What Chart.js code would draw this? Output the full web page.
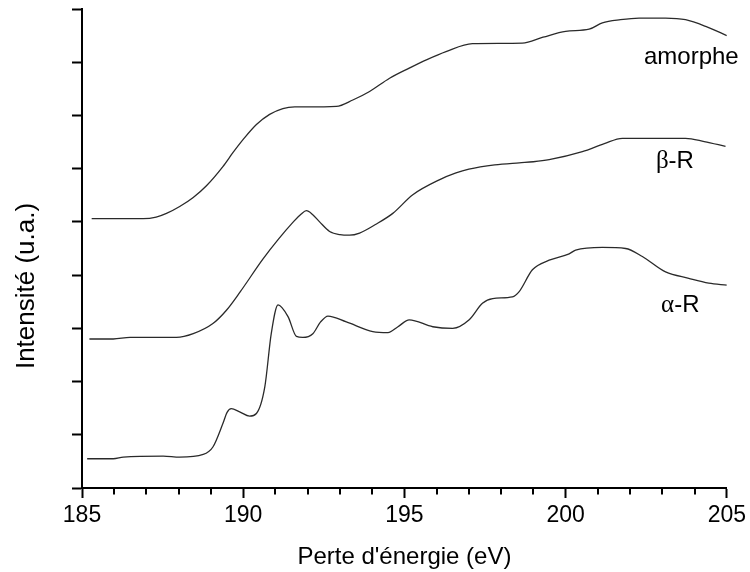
<!DOCTYPE html>
<html>
<head>
<meta charset="utf-8">
<script src="https://cdn.jsdelivr.net/npm/chart.js@4.4.1/dist/chart.umd.min.js"></script>
<style>
  html, body { margin: 0; padding: 0; background: #fff; }
  #wrap { width: 750px; height: 572px; }
</style>
</head>
<body>
<div id="wrap"><canvas id="c" width="750" height="572"></canvas></div>
<script>
// energie (eV) / intensite (u.a.)
const amorpheE = [185.3, 186.0, 186.9, 187.3, 187.62, 188.03, 188.45, 188.86, 189.37, 189.68, 190.0, 190.41, 190.82, 191.23, 191.6, 191.96, 192.89, 193.4, 193.92, 194.54, 195.15, 195.7, 196.29, 197.11, 198.66, 199.3, 200.0, 200.73, 201.14, 201.7, 202.28, 203.1, 203.72, 204.4, 205.0];
const amorpheI = [5.06, 5.06, 5.06, 5.09, 5.16, 5.29, 5.46, 5.68, 6.04, 6.3, 6.55, 6.83, 7.02, 7.13, 7.16, 7.16, 7.17, 7.29, 7.45, 7.7, 7.89, 8.05, 8.2, 8.35, 8.36, 8.47, 8.58, 8.62, 8.74, 8.8, 8.83, 8.83, 8.8, 8.66, 8.5];

const betaE = [185.23, 185.97, 186.49, 187.93, 188.45, 189.06, 189.48, 189.9, 190.61, 191.1, 191.54, 191.8, 191.96, 192.15, 192.37, 192.68, 193.0, 193.3, 193.61, 194.1, 194.64, 195.26, 196.08, 196.6, 197.0, 197.8, 198.56, 199.0, 199.49, 200.52, 201.2, 201.76, 203.72, 204.3, 204.96];
const betaI = [2.8, 2.8, 2.83, 2.83, 2.9, 3.09, 3.34, 3.68, 4.3, 4.68, 4.99, 5.15, 5.21, 5.14, 5.0, 4.82, 4.76, 4.75, 4.79, 4.95, 5.16, 5.51, 5.79, 5.92, 5.99, 6.07, 6.11, 6.13, 6.17, 6.32, 6.47, 6.57, 6.57, 6.51, 6.42];

const alphaE = [185.16, 185.97, 186.28, 187.52, 188.03, 188.76, 189.06, 189.37, 189.5, 189.63, 189.89, 190.2, 190.41, 190.67, 190.87, 191.08, 191.39, 191.65, 191.85, 192.16, 192.4, 192.63, 193.2, 194.02, 194.49, 194.8, 195.15, 195.88, 196.5, 197.01, 197.42, 197.74, 198.35, 198.56, 198.97, 199.49, 200.11, 200.31, 201.14, 201.86, 202.38, 203.1, 203.82, 204.44, 205.0];
const alphaI = [0.55, 0.55, 0.58, 0.6, 0.58, 0.63, 0.77, 1.21, 1.42, 1.49, 1.43, 1.35, 1.4, 1.9, 2.9, 3.44, 3.22, 2.85, 2.83, 2.9, 3.12, 3.23, 3.12, 2.94, 2.92, 3.03, 3.16, 3.03, 3.0, 3.16, 3.47, 3.56, 3.59, 3.69, 4.1, 4.28, 4.4, 4.47, 4.52, 4.5, 4.35, 4.06, 3.94, 3.85, 3.81];

const xMajor = [185, 190, 195, 200, 205];

const toPoints = (xs, ys) => xs.map((x, i) => ({ x: x, y: ys[i] }));

const serie = (pts) => ({
	data: pts,
	borderColor: '#2a2a2a',
	borderWidth: 1.3,
	pointRadius: 0,
	fill: false,
	cubicInterpolationMode: 'monotone',
});

// etiquettes des courbes : [partie grecque, reste, energie, intensite]
const curveLabels = [
	['', 'amorphe', 202.43, 8.1],
	['\u03b2', '-R', 202.8, 6.13],
	['\u03b1', '-R', 202.96, 3.43],
];

const minorTicks = {
	id: 'minorTicks',
	afterDraw(chart) {
		const { ctx, scales } = chart;
		const x = scales.x;
		const y0 = chart.chartArea.bottom;
		ctx.save();
		ctx.strokeStyle = '#000';
		ctx.lineWidth = 2;
		for (let v = 186; v < 205; v++) {
			if (v % 5 === 0) continue;
			const px = Math.round(x.getPixelForValue(v));
			ctx.beginPath();
			ctx.moveTo(px, y0);
			ctx.lineTo(px, y0 + 6.5);
			ctx.stroke();
		}
		ctx.restore();
	},
};

const textPlugin = {
	id: 'textPlugin',
	afterDraw(chart) {
		const { ctx, scales } = chart;
		ctx.save();
		ctx.fillStyle = '#000';
		ctx.textBaseline = 'middle';
		ctx.textAlign = 'left';
		curveLabels.forEach(([greek, rest, e, v]) => {
			let px = scales.x.getPixelForValue(e);
			const py = scales.y.getPixelForValue(v);
			if (greek) {
				ctx.font = '25px "Liberation Serif"';
				ctx.fillText(greek, px, py);
				px += ctx.measureText(greek).width;
			}
			ctx.font = '24px "Liberation Sans"';
			ctx.fillText(rest, px, py);
		});
		// titre de l'axe vertical
		ctx.translate(27, 286);
		ctx.rotate(-Math.PI / 2);
		ctx.textAlign = 'center';
		ctx.font = '26px "Liberation Sans"';
		ctx.fillText('Intensit\u00e9 (u.a.)', 0, 0);
		ctx.restore();
	},
};

new Chart(document.getElementById('c').getContext('2d'), {
	type: 'line',
	data: {
		datasets: [
			serie(toPoints(amorpheE, amorpheI)),
			serie(toPoints(betaE, betaI)),
			serie(toPoints(alphaE, alphaI)),
		],
	},
	options: {
		responsive: false,
		animation: false,
		layout: { padding: { top: 9, right: 22, left: 0, bottom: 0 } },
		plugins: { legend: { display: false }, tooltip: { enabled: false } },
		scales: {
			x: {
				type: 'linear',
				min: 185,
				max: 205,
				afterFit: s => { s.height = 84; },
				ticks: {
					stepSize: 1,
					autoSkip: false,
					maxRotation: 0,
					padding: 4,
					color: '#000',
					font: { family: 'Liberation Sans', size: 23 },
					callback: v => (xMajor.includes(v) ? String(v) : ''),
				},
				grid: {
					drawOnChartArea: false,
					tickLength: 10,
					tickWidth: 2,
					tickColor: ctx => (ctx.tick && xMajor.includes(ctx.tick.value) ? '#000' : 'rgba(0,0,0,0)'),
				},
				border: { color: '#000', width: 2 },
				title: {
					display: true,
					text: "Perte d'\u00e9nergie (eV)",
					color: '#000',
					font: { family: 'Liberation Sans', size: 24 },
					padding: { top: 0, bottom: 0 },
				},
			},
			y: {
				min: 0,
				max: 9,
				afterFit: s => { s.width = 82; },
				ticks: { stepSize: 1, display: false },
				grid: { drawOnChartArea: false, tickLength: 10, tickWidth: 2, tickColor: '#000' },
				border: { color: '#000', width: 2 },
			},
		},
	},
	plugins: [minorTicks, textPlugin],
});
</script>
</body>
</html>
